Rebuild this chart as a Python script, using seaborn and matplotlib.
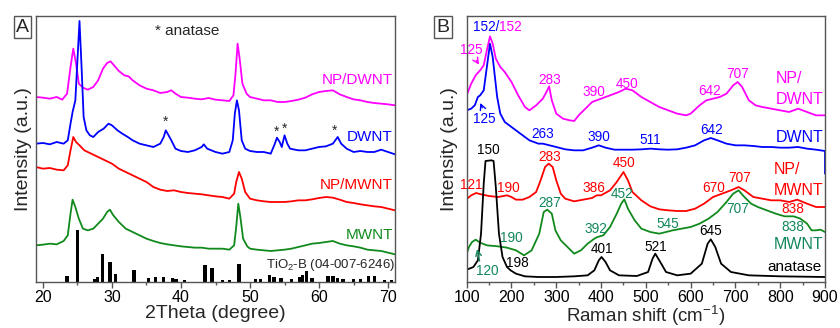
import numpy as np
import pandas as pd
import matplotlib
matplotlib.use("Agg")
import matplotlib.pyplot as plt
import seaborn as sns

# ---------------- Panel A (XRD) : (2theta, intensity a.u.) ----------------
a_npdwnt_x = [19, 20, 21, 22, 22.8, 23.5, 24.0, 24.4, 24.8, 25.2, 25.8, 26.5, 27.3, 28.0, 28.7, 29.3, 29.8, 30.3, 31.0, 31.8, 32.4, 33.0, 34.0, 35.0, 36.0, 37.0, 38.0, 38.6, 39.2, 40.0, 41.0, 42.0, 43.0, 44.0, 45.0, 46.0, 47.0, 47.6, 47.9, 48.2, 48.5, 48.9, 49.5, 50.0, 51.0, 52.0, 53.0, 54.0, 55.0, 56.0, 57.0, 58.0, 59.0, 60.0, 61.0, 62.0, 63.0, 64.0, 65.0, 66.0, 67.0, 68.0, 69.0, 70.0, 71.0]
a_npdwnt_y = [555, 553, 550, 555, 547, 565, 645, 700, 655, 595, 583, 577, 585, 605, 640, 657, 662, 650, 633, 620, 617, 605, 590, 580, 575, 567, 570, 575, 565, 555, 553, 550, 548, 552, 547, 545, 543, 560, 625, 715, 670, 595, 565, 555, 550, 545, 545, 540, 540, 543, 547, 553, 563, 570, 573, 575, 563, 555, 548, 545, 540, 537, 535, 533, 530]

a_dwnt_x = [19, 20, 21, 22, 23, 23.6, 24.0, 24.3, 24.7, 25.0, 25.3, 25.6, 25.9, 26.3, 26.8, 27.3, 28.0, 28.8, 29.5, 30.0, 30.8, 31.5, 32.3, 33.0, 34.0, 35.0, 36.0, 37.0, 37.5, 37.8, 38.2, 38.6, 39.2, 40.0, 41.0, 42.0, 43.0, 43.3, 43.8, 45.0, 46.0, 47.0, 47.5, 47.8, 48.1, 48.4, 48.8, 49.3, 50.0, 51.0, 52.0, 53.0, 53.6, 53.9, 54.3, 54.6, 55.0, 55.4, 55.8, 57.0, 58.0, 59.0, 60.0, 61.0, 62.0, 62.7, 63.2, 64.0, 65.0, 66.0, 67.0, 68.0, 69.0, 70.0, 71.0]
a_dwnt_y = [415, 417, 413, 420, 415, 425, 475, 510, 545, 665, 783, 645, 495, 455, 440, 435, 450, 460, 475, 470, 455, 445, 435, 425, 415, 410, 405, 415, 435, 455, 440, 425, 400, 393, 390, 395, 405, 413, 400, 390, 385, 390, 425, 505, 545, 515, 425, 400, 393, 390, 390, 385, 415, 433, 420, 405, 440, 415, 400, 395, 395, 400, 405, 407, 415, 435, 415, 400, 390, 393, 390, 390, 397, 390, 383]

a_npmwnt_x = [19, 20, 21, 22, 23.0, 23.6, 24.0, 24.4, 24.8, 25.3, 26.0, 27.0, 28.0, 29.0, 30.0, 31.0, 32.0, 33.0, 34.0, 35.0, 36.0, 37.0, 38.0, 39.0, 40.0, 41.0, 42.0, 43.0, 44.0, 45.0, 46.0, 47.0, 47.7, 48.0, 48.4, 48.8, 49.3, 50.0, 51.0, 52.0, 53.0, 54.0, 55.0, 56.0, 57.0, 58.0, 59.0, 60.0, 61.0, 62.0, 63.0, 64.0, 65.0, 66.0, 67.0, 68.0, 69.0, 70.0, 71.0]
a_npmwnt_y = [345, 340, 342, 337, 335, 350, 395, 435, 420, 410, 395, 385, 375, 365, 355, 340, 330, 320, 310, 300, 285, 277, 273, 275, 270, 267, 265, 263, 260, 257, 255, 250, 265, 300, 330, 310, 270, 250, 245, 242, 240, 240, 240, 242, 245, 245, 248, 252, 255, 253, 247, 240, 237, 233, 230, 227, 225, 220, 215]

a_mwnt_x = [19, 20, 21, 22, 23.0, 23.6, 24.0, 24.3, 24.7, 25.2, 25.8, 26.5, 27.3, 28.0, 28.7, 29.3, 29.7, 30.2, 31.0, 32.0, 33.0, 34.0, 35.0, 36.0, 37.0, 38.0, 39.0, 40.0, 41.0, 42.0, 43.0, 44.0, 45.0, 46.0, 47.0, 47.7, 48.0, 48.3, 48.6, 49.0, 49.6, 50.0, 51.0, 52.0, 53.0, 54.0, 55.0, 56.0, 57.0, 58.0, 59.0, 60.0, 61.0, 62.0, 63.0, 64.0, 65.0, 66.0, 67.0, 68.0, 69.0, 70.0, 71.0]
a_mwnt_y = [110, 112, 115, 113, 123, 140, 205, 247, 225, 190, 160, 155, 160, 175, 190, 210, 217, 200, 180, 160, 150, 140, 130, 123, 117, 113, 110, 107, 105, 103, 103, 100, 100, 100, 97, 110, 165, 235, 195, 130, 107, 100, 97, 95, 93, 95, 97, 100, 105, 110, 115, 117, 120, 123, 115, 110, 107, 103, 97, 95, 93, 88, 83]

# TiO2-B reference pattern sticks
stick_x = [23.5, 25.0, 27.5, 27.9, 28.6, 29.7, 30.5, 33.2, 35.3, 36.3, 37.5, 38.8, 39.3, 40.5, 43.5, 44.5, 46.0, 47.0, 48.4, 50.8, 51.5, 52.8, 53.5, 54.5, 56.0, 57.2, 57.6, 58.2, 59.0, 61.3, 62.0, 62.7, 63.5, 65.0, 66.0, 67.2, 68.0, 69.5, 70.5]
stick_h = [17, 157, 10, 15, 85, 60, 23, 35, 13, 15, 16, 12, 10, 7, 50, 42, 7, 7, 55, 9, 9, 20, 15, 12, 9, 15, 20, 33, 13, 18, 17, 13, 10, 9, 10, 19, 17, 7, 7]

# ---------------- Panel B (Raman) : (shift, intensity a.u.) ----------------
b_npdwnt_x = [100, 110, 120, 130, 138, 145, 152, 158, 165, 175, 185, 200, 215, 230, 240, 255, 270, 280, 284, 290, 300, 315, 330, 340, 350, 365, 380, 400, 420, 440, 455, 470, 490, 510, 530, 550, 570, 590, 600, 620, 635, 650, 665, 680, 695, 705, 715, 730, 745, 760, 780, 800, 820, 840, 860, 880, 900]
b_npdwnt_y = [560, 595, 620, 635, 650, 695, 737, 715, 670, 645, 630, 600, 560, 525, 515, 530, 550, 575, 587, 545, 505, 490, 485, 483, 500, 520, 540, 550, 560, 570, 580, 575, 555, 540, 525, 515, 505, 500, 505, 530, 545, 550, 555, 565, 590, 600, 585, 545, 530, 525, 520, 515, 510, 520, 510, 500, 500]

b_dwnt_x = [100, 110, 118, 125, 130, 138, 145, 152, 158, 163, 168, 175, 185, 200, 220, 240, 260, 270, 285, 300, 320, 340, 360, 380, 395, 410, 430, 450, 470, 490, 511, 530, 550, 570, 590, 610, 630, 645, 660, 680, 700, 720, 740, 760, 780, 800, 820, 840, 860, 880, 900, 900]
b_dwnt_y = [515, 520, 530, 555, 560, 575, 645, 715, 675, 615, 555, 505, 480, 465, 445, 425, 415, 415, 410, 405, 398, 395, 395, 403, 410, 403, 397, 397, 397, 398, 400, 398, 397, 398, 403, 410, 425, 432, 425, 415, 410, 410, 408, 405, 405, 403, 403, 405, 400, 397, 393, 325]

b_npmwnt_x = [100, 101, 110, 121, 135, 150, 170, 190, 200, 210, 225, 240, 255, 265, 275, 283, 292, 300, 310, 320, 340, 360, 380, 390, 400, 420, 435, 450, 460, 470, 490, 510, 530, 550, 570, 590, 610, 630, 650, 670, 690, 707, 720, 740, 760, 780, 800, 820, 838, 860, 880, 900]
b_npmwnt_y = [225, 250, 260, 267, 262, 258, 255, 260, 255, 247, 247, 255, 270, 305, 345, 355, 345, 305, 265, 250, 242, 247, 252, 260, 260, 275, 300, 330, 305, 270, 245, 227, 218, 215, 213, 213, 220, 235, 255, 265, 275, 285, 275, 255, 250, 245, 245, 240, 247, 235, 225, 225]

b_mwnt_x = [100, 105, 112, 120, 130, 145, 170, 190, 210, 228, 245, 262, 272, 280, 290, 298, 310, 325, 340, 355, 370, 385, 392, 405, 420, 435, 445, 452, 460, 475, 490, 510, 530, 545, 560, 580, 600, 620, 640, 660, 680, 695, 707, 720, 735, 750, 770, 790, 810, 830, 845, 860, 870, 880, 890, 900]
b_mwnt_y = [85, 105, 120, 127, 118, 110, 107, 103, 95, 80, 95, 145, 210, 217, 205, 155, 125, 105, 85, 95, 115, 130, 135, 140, 165, 205, 235, 248, 220, 185, 160, 150, 145, 150, 155, 160, 165, 175, 190, 210, 240, 265, 275, 255, 235, 225, 215, 205, 197, 197, 190, 175, 155, 155, 157, 150]

b_anatase_x = [100, 115, 125, 132, 138, 142, 155, 160, 165, 172, 180, 190, 198, 210, 230, 260, 300, 340, 370, 385, 395, 401, 410, 420, 440, 480, 505, 515, 521, 530, 545, 570, 600, 625, 638, 645, 655, 668, 690, 730, 800, 900]
b_anatase_y = [37, 45, 65, 145, 295, 363, 365, 363, 285, 145, 75, 45, 35, 25, 17, 15, 15, 17, 20, 35, 65, 75, 60, 35, 20, 18, 30, 70, 85, 65, 30, 20, 25, 55, 115, 128, 105, 55, 30, 20, 17, 15]

MAG, BLU, RED, GRN, BLK = "#ff00ff", "#0000ff", "#ff0000", "#118a1d", "#000000"
GRN_T = "#11875a"

sns.set_style("ticks")
plt.rcParams["font.family"] = ["Liberation Sans", "DejaVu Sans"]
plt.rcParams["mathtext.fontset"] = "custom"
plt.rcParams["mathtext.rm"] = "Liberation Sans"

fig = plt.figure(figsize=(8.4, 3.28), dpi=100)
axA = fig.add_axes([36 / 840, 46 / 328, 359 / 840, 266 / 328])
axB = fig.add_axes([466.7 / 840, 46 / 328, 358.3 / 840, 266 / 328])

def draw(ax, xs, ys, color):
    df = pd.DataFrame({"x": xs, "y": ys})
    sns.lineplot(data=df, x="x", y="y", ax=ax, color=color, lw=1.3,
                 estimator=None, sort=False)

for xs, ys, c in [(a_npdwnt_x, a_npdwnt_y, MAG), (a_dwnt_x, a_dwnt_y, BLU),
                  (a_npmwnt_x, a_npmwnt_y, RED), (a_mwnt_x, a_mwnt_y, GRN)]:
    draw(axA, xs, ys, c)
axA.bar(stick_x, stick_h, width=0.5, color="black", bottom=0, lw=0)

for xs, ys, c in [(b_npdwnt_x, b_npdwnt_y, MAG), (b_dwnt_x, b_dwnt_y, BLU),
                  (b_npmwnt_x, b_npmwnt_y, RED), (b_mwnt_x, b_mwnt_y, GRN),
                  (b_anatase_x, b_anatase_y, BLK)]:
    draw(axB, xs, ys, c)

for ax in (axA, axB):
    ax.set_ylim(0, 798)
    ax.set_yticks([])
    for s in ax.spines.values():
        s.set_color("#555555")
        s.set_linewidth(1.0)
    ax.tick_params(axis="x", which="major", direction="out", length=4,
                   width=1, colors="#555555", labelcolor="black",
                   labelsize=11.5, pad=1.5)
    ax.tick_params(axis="x", which="minor", direction="out", length=2.5,
                   width=1, colors="#555555")
    ax.set_ylabel("Intensity (a.u.)", fontsize=14, labelpad=3)

axA.set_xlim(19, 71)
axA.set_xticks([20, 30, 40, 50, 60, 70])
axA.set_xticks(np.arange(25, 71, 10), minor=True)
axA.set_xlabel("2Theta (degree)", fontsize=14, labelpad=0)

axB.set_xlim(100, 900)
axB.set_xticks(np.arange(100, 901, 100))
axB.set_xticks(np.arange(150, 900, 100), minor=True)
axB.set_xlabel("Raman shift (cm$^{-1}$)", fontsize=13.5, labelpad=-1)
axB.set_ylabel("Intensity (a.u.)", fontsize=14, labelpad=6)

# ---- panel A labels ----
fsA = 11
axA.text(36.3, 752, "* anatase", fontsize=11, va="center", ha="left")
axA.text(70.7, 605, "NP/DWNT", color=MAG, fontsize=fsA, ha="right", va="center")
axA.text(70.7, 435, "DWNT", color=BLU, fontsize=fsA, ha="right", va="center")
axA.text(70.7, 290, "NP/MWNT", color=RED, fontsize=fsA, ha="right", va="center")
axA.text(70.7, 142, "MWNT", color=GRN, fontsize=fsA, ha="right", va="center")
axA.text(71.0, 50, "TiO$_2$-B (04-007-6246)", fontsize=9.5, ha="right", va="center")
for x, y in [(37.8, 480), (53.9, 450), (55.0, 460), (62.3, 455)]:
    axA.text(x, y, "*", fontsize=10, ha="center", va="center")

# ---- panel B labels ----
fsB = 9.8
def tb(x, y, s, c, ha="center"):
    axB.text(x, y, s, color=c, fontsize=fsB, ha=ha, va="center")

axB.text(172, 765, "152/", color=BLU, fontsize=fsB, ha="right", va="center")
axB.text(172, 765, "152", color=MAG, fontsize=fsB, ha="left", va="center")
tb(111, 695, "125", MAG)
axB.annotate("", xy=(131, 645), xytext=(118, 672),
             arrowprops=dict(arrowstyle="->", color=MAG, lw=1))
tb(139, 490, "125", BLU)
axB.annotate("", xy=(128, 545), xytext=(137, 515),
             arrowprops=dict(arrowstyle="->", color=BLU, lw=1))
for x, y, s in [(286, 605, "283"), (383, 570, "390"), (457, 593, "450"),
                (643, 573, "642"), (706, 623, "707")]:
    tb(x, y, s, MAG)
for x, y, s in [(270, 445, "263"), (394, 435, "390"), (509, 427, "511"),
                (647, 455, "642")]:
    tb(x, y, s, BLU)
tb(148, 395, "150", BLK)
for x, y, s in [(286, 375, "283"), (452, 358, "450"), (111, 290, "121"),
                (193, 282, "190"), (383, 283, "386"), (651, 282, "670"),
                (709, 313, "707"), (829, 220, "838")]:
    tb(x, y, s, RED)
for x, y, s in [(286, 237, "287"), (446, 263, "452"), (388, 160, "392"),
                (550, 173, "545"), (706, 218, "707"), (828, 165, "838"),
                (200, 133, "190"), (145, 33, "120")]:
    tb(x, y, s, GRN_T)
axB.annotate("", xy=(122, 107), xytext=(130, 55),
             arrowprops=dict(arrowstyle="->", color=GRN_T, lw=1))
for x, y, s in [(213, 57, "198"), (401, 100, "401"), (522, 105, "521"),
                (645, 152, "645")]:
    tb(x, y, s, BLK)
axB.text(892, 45, "anatase", color=BLK, fontsize=11, ha="right", va="center")

fsN = 11.5
axB.text(790, 610, "NP/", color=MAG, fontsize=fsN, ha="left", va="center")
axB.text(790, 547, "DWNT", color=MAG, fontsize=fsN, ha="left", va="center")
axB.text(790, 435, "DWNT", color=BLU, fontsize=fsN, ha="left", va="center")
axB.text(785, 337, "NP/", color=RED, fontsize=fsN, ha="left", va="center")
axB.text(785, 275, "MWNT", color=RED, fontsize=fsN, ha="left", va="center")
axB.text(785, 112, "MWNT", color=GRN_T, fontsize=fsN, ha="left", va="center")

# panel letters
for x, s in [(22.5, "A"), (443, "B")]:
    fig.text(x / 840, 1 - 27 / 328, s, fontsize=14, ha="center", va="center",
             bbox=dict(boxstyle="square,pad=0.12", fc="white", ec="#555555", lw=1))

fig.savefig("out.png", dpi=100)
